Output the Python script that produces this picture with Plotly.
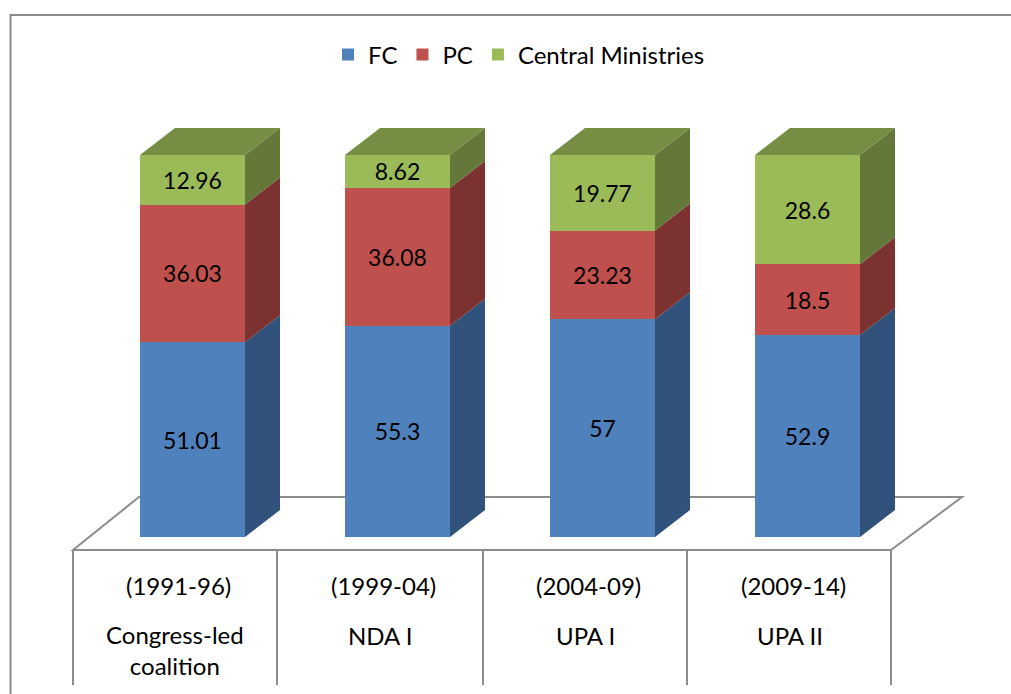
import plotly.graph_objects as go

# values (shares in %)
periods = ["(1991-96)", "(1999-04)", "(2004-09)", "(2009-14)"]
governments = ["Congress-led<br>coalition", "NDA I", "UPA I", "UPA II"]
fc = [51.01, 55.3, 57, 52.9]
pc = [36.03, 36.08, 23.23, 18.5]
central = [12.96, 8.62, 19.77, 28.6]

WIDTH, HEIGHT = 1011, 694
FONT = "Lato"
FONT_SIZE = 23
LABEL_SIZE = 24
GREY = "#8c8c8c"

# axis scale: category spacing is 205px, 100% is 382px
PX_X = 205
PX_Y = 3.82
bar_w = 105 / PX_X
depth_x = 35 / PX_X
depth_y = 27 / PX_Y
x_range = [-192.5 / PX_X, (WIDTH - 192.5) / PX_X]
y_range = [-(HEIGHT - 537) / PX_Y, 537 / PX_Y]


def px(x):
    return x / WIDTH


def py(y):
    return 1 - y / HEIGHT


def side_polys(bases, values):
    xs, ys = [], []
    for i, (b, v) in enumerate(zip(bases, values)):
        right = i + bar_w / 2
        xs += [right, right + depth_x, right + depth_x, right, None]
        ys += [b, b + depth_y, b + v + depth_y, b + v, None]
    return xs, ys


def top_polys(tops):
    xs, ys = [], []
    for i, t in enumerate(tops):
        left = i - bar_w / 2
        right = i + bar_w / 2
        xs += [left, left + depth_x, right + depth_x, right, None]
        ys += [t, t + depth_y, t + depth_y, t, None]
    return xs, ys


series = [
    ("FC", fc, "#4f81bd", "#31527b"),
    ("PC", pc, "#c0504d", "#7b3230"),
    ("Central Ministries", central, "#9bbb59", "#64783a"),
]

fig = go.Figure()
cats = list(range(len(periods)))
bases = [0] * len(cats)

for name, values, front, side in series:
    fig.add_trace(go.Bar(x=cats, y=values, name=name, width=bar_w, marker=dict(color=front, line=dict(width=0)),
                         text=values, textposition="inside", insidetextanchor="middle", textangle=0,
                         constraintext="none", textfont=dict(color="black", size=FONT_SIZE, family=FONT)))
    sx, sy = side_polys(bases, values)
    fig.add_trace(go.Scatter(x=sx, y=sy, mode="lines", fill="toself", fillcolor=side, line=dict(width=0),
                             showlegend=False, hoverinfo="skip"))
    bases = [b + v for b, v in zip(bases, values)]

tx, ty = top_polys(bases)
fig.add_trace(go.Scatter(x=tx, y=ty, mode="lines", fill="toself", fillcolor="#768e44", line=dict(width=0),
                         showlegend=False, hoverinfo="skip"))

# outer frame, floor and the table under the bars
line = dict(color=GREY, width=2)
shapes = [
    dict(type="path", xref="paper", yref="paper", layer="below", line=line,
         path=f"M {px(10.5)} {py(694)} L {px(10.5)} {py(15)} L {px(1011)} {py(15)}"),
    dict(type="path", xref="paper", yref="paper", layer="below", line=line,
         path=f"M {px(73)} {py(550)} L {px(139)} {py(497)} L {px(962)} {py(497)} L {px(891)} {py(550)} Z"),
]
for edge in [73, 277, 483, 687, 891]:
    shapes.append(dict(type="line", xref="paper", yref="paper", layer="below", line=line,
                       x0=px(edge), x1=px(edge), y0=py(550), y1=py(685)))

label_font = dict(size=LABEL_SIZE, family=FONT, color="black")
annotations = []
for i, (period, gov) in enumerate(zip(periods, governments)):
    annotations.append(dict(x=i - 0.07, y=py(585), xref="x", yref="paper", yanchor="middle", text=period,
                            showarrow=False, font=label_font))
    annotations.append(dict(x=i - 0.085, y=py(635) if "<br>" not in gov else py(650), xref="x", yref="paper",
                            yanchor="middle", text=gov, showarrow=False, font=label_font))

fig.update_layout(
    width=WIDTH, height=HEIGHT, margin=dict(l=0, r=0, t=0, b=0),
    barmode="stack", paper_bgcolor="white", plot_bgcolor="white",
    font=dict(family=FONT, size=FONT_SIZE, color="black"),
    xaxis=dict(range=x_range, visible=False, fixedrange=True),
    yaxis=dict(range=y_range, visible=False, fixedrange=True),
    legend=dict(orientation="h", traceorder="normal", x=px(519), xanchor="center", y=py(55), yanchor="middle",
                font=dict(size=LABEL_SIZE, family=FONT), bgcolor="rgba(0,0,0,0)"),
    shapes=shapes, annotations=annotations,
)

fig.write_html("out.html", config=dict(displayModeBar=False),
               post_script="document.body.style.margin='0';document.body.style.overflow='hidden';")
